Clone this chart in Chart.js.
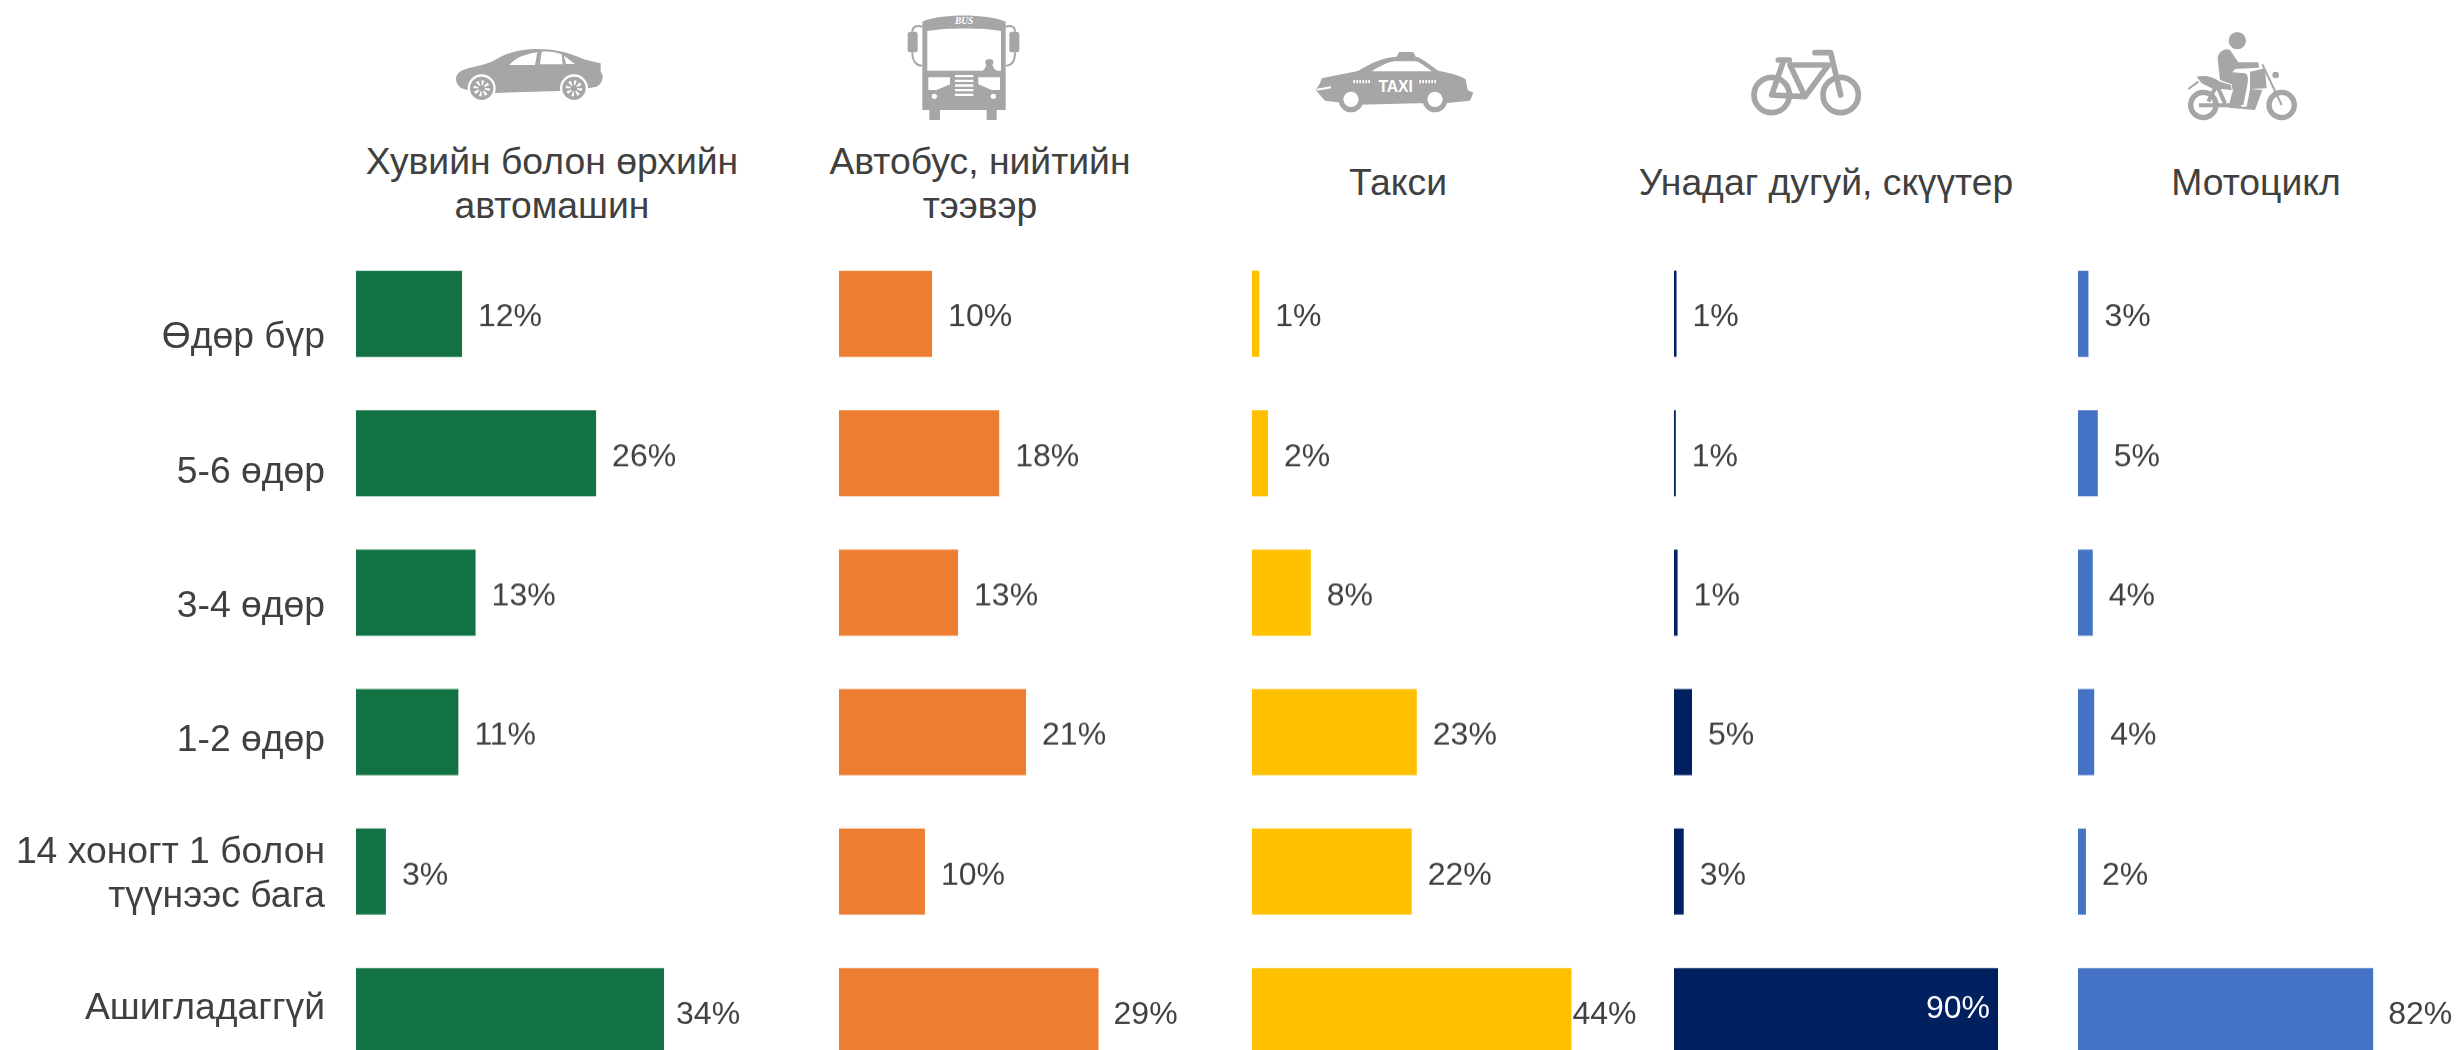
<!DOCTYPE html>
<html>
<head>
<meta charset="utf-8">
<script src="https://cdn.jsdelivr.net/npm/chart.js@4/dist/chart.umd.min.js"></script>
<style>
  html, body { margin: 0; padding: 0; background: #fff; overflow: hidden; }
  #page { position: relative; width: 2458px; height: 1050px; overflow: hidden; font-family: "Liberation Sans", Arial, sans-serif; color: #404040; }
  .box { position: absolute; }
  .head { position: absolute; text-align: center; font-size: 37.3px; line-height: 44px; white-space: nowrap; transform: translateX(-50%); }
  .icon { position: absolute; fill: #a6a6a6; }
  .icon .w { fill: #fff; }
  .icon .s { fill: none; stroke: #a6a6a6; }
</style>
</head>
<body>
<div id="page">
  <!-- car -->
  <svg class="icon" style="left:440px;top:35px" width="180" height="80" viewBox="0 0 540 240">
    <path d="M48 130C50 115 60 105 90 98C120 92 150 85 170 72C200 55 240 42 290 42C340 42 380 50 430 72C450 78 470 82 482 85L482 110C492 120 490 145 470 155L445 160L360 168L165 174L90 165C60 165 48 150 48 130Z"/>
    <path class="w" d="M208 90C225 70 250 58 292 52L285 90ZM305 50C330 48 350 52 365 58L368 88L300 88ZM372 62L405 87L378 87Z"/>
    <circle class="w" cx="125" cy="160" r="42"/><circle class="w" cx="402" cy="160" r="42"/>
    <circle cx="125" cy="160" r="35"/><circle cx="402" cy="160" r="35"/>
    <circle class="s" style="stroke:#fff" stroke-width="15" stroke-dasharray="6 7" cx="125" cy="160" r="17"/>
    <circle class="s" style="stroke:#fff" stroke-width="15" stroke-dasharray="6 7" cx="402" cy="160" r="17"/>
  </svg>
  <!-- bus -->
  <svg class="icon" style="left:895px;top:5px" width="135" height="120" viewBox="0 0 405 360">
    <path d="M82 50C130 25 280 25 332 50L332 315L305 315L305 345L275 345L275 315L135 315L135 345L103 345L103 315L82 315Z"/>
    <path class="w" d="M97 78C150 68 270 68 318 78L318 197L305 197C295 190 295 185 292 180C298 172 296 162 283 162C270 162 268 172 274 180C270 190 268 194 262 197L97 197Z"/>
    <path class="w" d="M100 217L165 217L165 238L125 255L100 255ZM315 217L250 217L250 238L290 255L315 255Z"/>
    <path class="w" d="M180 210H235V217H180ZM180 224H235V231H180ZM180 238H235V245H180ZM180 252H235V259H180ZM180 266H235V273H180Z"/>
    <circle class="w" cx="118" cy="274" r="8"/><circle class="w" cx="295" cy="274" r="8"/>
    <rect x="38" y="80" width="30" height="62" rx="8"/><rect x="343" y="80" width="30" height="62" rx="8"/>
    <path class="s" stroke-width="6" d="M82 65C65 60 52 65 52 80M332 65C350 60 360 65 360 80M52 142C52 170 65 182 82 182M360 142C360 170 350 182 332 182"/>
    <text class="w" x="207" y="56" text-anchor="middle" font-family="Liberation Serif" font-weight="bold" font-style="italic" font-size="28">BUS</text>
  </svg>
  <!-- taxi -->
  <svg class="icon" style="left:1305px;top:40px" width="180" height="85" viewBox="0 0 540 255">
    <path d="M50 115C90 105 130 100 160 92C190 75 220 55 275 50L282 36L325 36L332 50C350 52 375 75 400 92C440 100 470 108 482 118L488 150L505 158L495 182L420 190L340 190L160 194L60 182L32 150L45 130Z"/>
    <path class="w" d="M200 94C225 78 250 66 268 64L335 64C350 72 370 85 380 94Z"/>
    <path class="s" style="stroke:#fff" stroke-width="6" d="M35 149L78 142"/>
    <circle cx="138" cy="180" r="37"/><circle cx="390" cy="180" r="37"/>
    <circle class="w" cx="138" cy="178" r="23"/><circle class="w" cx="390" cy="178" r="23"/>
    <text class="w" x="272" y="155" text-anchor="middle" font-family="Liberation Sans" font-weight="bold" font-size="47">TAXI</text>
    <path class="s" style="stroke:#fff" stroke-width="10" stroke-dasharray="5 4" d="M145 125H197M343 125H395"/>
  </svg>
  <!-- bicycle -->
  <svg class="icon" style="left:1740px;top:40px" width="135" height="85" viewBox="0 0 405 255">
    <circle class="s" stroke-width="17" cx="95" cy="165" r="53"/><circle class="s" stroke-width="17" cx="302" cy="165" r="53"/>
    <path class="s" stroke-width="17" stroke-linecap="round" stroke-linejoin="round" d="M115 60H148M225 38H272L302 165M130 65L95 165L195 170L265 75H150L195 170"/>
  </svg>
  <!-- motorcycle -->
  <svg class="icon" style="left:2175px;top:25px" width="135" height="105" viewBox="0 0 405 315">
    <circle cx="187" cy="47" r="26"/>
    <path d="M128 100C130 80 150 68 165 75L190 112L250 112L252 128L180 132L172 142L210 145C222 150 220 170 215 190L205 240L180 240L170 178L135 165Z"/>
    <path d="M65 155C90 150 115 155 135 170L168 180L170 195L110 190L80 175Z"/>
    <path d="M225 140L270 130L275 190L225 192ZM225 192L262 195L240 255L160 248L172 200L200 245L215 245Z"/>
    <path class="s" stroke-width="6" d="M40 192L70 170M262 118L320 240"/>
    <circle cx="302" cy="150" r="10"/>
    <circle class="s" stroke-width="16" cx="85" cy="240" r="38"/><circle class="s" stroke-width="16" cx="320" cy="240" r="38"/>
    <path class="s" stroke-width="12" d="M72 241H170M100 230L125 180L150 235"/>
  </svg>
</div>
<script>
const rowLabels = ['Өдөр бүр', '5-6 өдөр', '3-4 өдөр', '1-2 өдөр', ['14 хоногт 1 болон', 'түүнээс бага'], 'Ашигладаггүй'];
const modeNames = [['Хувийн болон өрхийн', 'автомашин'], ['Автобус, нийтийн', 'тээвэр'], ['Такси'], ['Унадаг дугуй, скүүтер'], ['Мотоцикл']];

const carValues = [11.7, 26.5, 13.2, 11.3, 3.3, 34];
const busValues = [10.4, 17.9, 13.3, 20.9, 9.6, 29];
const taxiValues = [1.0, 2.2, 8.1, 22.7, 22, 44];
const bikeValues = [0.7, 0.5, 1.0, 5, 2.7, 90];
const motoValues = [2.9, 5.5, 4.1, 4.5, 2.2, 82];

const carLabels = ['12%', '26%', '13%', '11%', '3%', '34%'];
const busLabels = ['10%', '18%', '13%', '21%', '10%', '29%'];
const taxiLabels = ['1%', '2%', '8%', '23%', '22%', '44%'];
const bikeLabels = ['1%', '1%', '1%', '5%', '3%', '90%'];
const motoLabels = ['3%', '5%', '4%', '4%', '2%', '82%'];

const page = document.getElementById('page');
const textColor = '#404040';
const labelFont = '32px "Liberation Sans", Arial, sans-serif';

// value labels next to the bars (no datalabels plugin available offline)
const barLabelPlugin = {
  id: 'barLabels',
  afterDatasetsDraw(chart, args, opts) {
    const ctx = chart.ctx;
    const bars = chart.getDatasetMeta(0).data;
    ctx.save();
    ctx.font = labelFont;
    ctx.textBaseline = 'middle';
    bars.forEach((bar, i) => {
      const inside = opts.inside && opts.inside[i];
      const gap = opts.gaps && opts.gaps[i] !== undefined ? opts.gaps[i] : 16;
      ctx.fillStyle = inside ? '#fff' : textColor;
      ctx.textAlign = inside ? 'right' : 'left';
      ctx.fillText(opts.texts[i], inside ? bar.x - 8 : bar.x + gap, inside ? bar.y - 2 : bar.y + 4);
    });
    ctx.restore();
  }
};

function addCanvas(left, top, width, height) {
  const box = document.createElement('div');
  box.className = 'box';
  box.style.cssText = `left:${left}px;top:${top}px;width:${width}px;height:${height}px`;
  const canvas = document.createElement('canvas');
  box.appendChild(canvas);
  page.appendChild(box);
  return canvas;
}

function addPanel(left, values, texts, color, pxPerUnit, width, extra) {
  // 6 rows at 139.3px pitch, the last one runs off the bottom of the page
  const canvas = addCanvas(left, 244.4, width, 835.8);
  new Chart(canvas, {
    type: 'bar',
    data: {
      labels: rowLabels,
      datasets: [{ data: values, backgroundColor: color, categoryPercentage: 1, barPercentage: 86 / 139.3 }]
    },
    plugins: [barLabelPlugin],
    options: {
      indexAxis: 'y',
      animation: false,
      responsive: true,
      maintainAspectRatio: false,
      layout: { padding: 0 },
      plugins: {
        legend: { display: false },
        tooltip: { enabled: false },
        barLabels: Object.assign({ texts: texts }, extra)
      },
      scales: {
        x: { display: false, min: 0, max: width / pxPerUnit },
        y: { display: false }
      }
    }
  });
}

addPanel(356, carValues, carLabels, '#127244', 9.06, 440, { gaps: [16, 16, 16, 16, 16, 12] });
addPanel(839, busValues, busLabels, '#ED7D31', 8.95, 370, { gaps: [16, 16, 16, 16, 16, 15] });
addPanel(1252, taxiValues, taxiLabels, '#FFC000', 7.26, 400, { gaps: [16, 16, 16, 16, 16, 1] });
addPanel(1674, bikeValues, bikeLabels, '#002060', 3.6, 380, { inside: [false, false, false, false, false, true] });
addPanel(2078, motoValues, motoLabels, '#4472C4', 3.6, 380, { gaps: [16, 16, 16, 16, 16, 15] });

// row names sit on their own, slightly tighter pitch than the bars
const nameCanvas = addCanvas(0, 271, 340, 805);
new Chart(nameCanvas, {
  type: 'bar',
  data: { labels: rowLabels, datasets: [{ data: [] }] },
  options: {
    indexAxis: 'y',
    animation: false,
    responsive: true,
    maintainAspectRatio: false,
    layout: { padding: 0 },
    plugins: { legend: { display: false }, tooltip: { enabled: false } },
    scales: {
      x: { display: false },
      y: {
        grid: { display: false },
        border: { display: false },
        afterFit(scale) {
          scale.width = 340;
          scale.paddingTop = 0;
          scale.paddingBottom = 0;
        },
        ticks: {
          color: textColor,
          padding: 7,
          autoSkip: false,
          font: { family: '"Liberation Sans", Arial, sans-serif', size: 37.3, lineHeight: 1.2 }
        }
      }
    }
  }
});

const headCenters = [552, 980, 1398, 1826, 2256];
const headTops = [139, 139, 160, 160, 160];
modeNames.forEach((lines, i) => {
  const head = document.createElement('div');
  head.className = 'head';
  head.style.left = headCenters[i] + 'px';
  head.style.top = headTops[i] + 'px';
  head.innerHTML = lines.join('<br>');
  page.appendChild(head);
});
</script>
</body>
</html>
